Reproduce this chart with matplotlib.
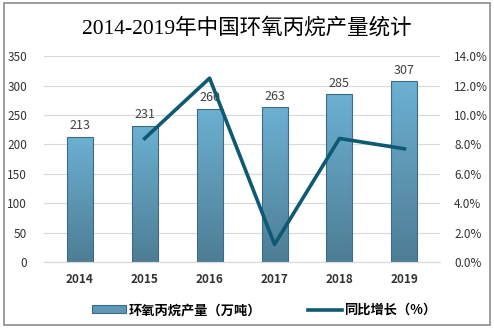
import matplotlib.pyplot as plt
import numpy as np
from matplotlib.colors import LinearSegmentedColormap
from matplotlib.lines import Line2D
from matplotlib.patches import Rectangle

plt.rcParams["font.family"] = ["Noto Sans CJK SC", "DejaVu Sans"]

years = ["2014", "2015", "2016", "2017", "2018", "2019"]
output = [213, 231, 260, 263, 285, 307]
growth_years = ["2015", "2016", "2017", "2018", "2019"]
growth = [8.4, 12.5, 1.2, 8.4, 7.7]

TITLE = "2014-2019年中国环氧丙烷产量统计"
BAR_LABEL = "环氧丙烷产量（万吨）"
LINE_LABEL = "同比增长（%）"

LINE_COLOR = "#0f5a73"
TEXT_COLOR = "#404040"

fig = plt.figure(figsize=(4.94, 3.28), dpi=100)
ax = fig.add_axes([0.089, 0.201, 0.802, 0.628])
ax2 = ax.twinx()

x = np.arange(len(years))
bars = ax.bar(x, output, width=0.4, color="none", edgecolor="#3d6b80", linewidth=0.8, zorder=3)

# vertical gradient inside each bar
grad = np.linspace(0, 1, 256).reshape(-1, 1)
cmap = LinearSegmentedColormap.from_list("bar", ["#4e7d95", "#6cb0d2"])
for b in bars:
    x0, y0 = b.get_x(), b.get_y()
    im = ax.imshow(grad, extent=[x0, x0 + b.get_width(), y0, y0 + b.get_height()],
                   origin="lower", cmap=cmap, aspect="auto", zorder=2)
    im.set_clip_path(b)

for xi, v in zip(x, output):
    ax.text(xi, v + 8, str(v), ha="center", va="bottom", fontsize=9, color=TEXT_COLOR)

gx = [years.index(y) for y in growth_years]
ax2.plot(gx, growth, color=LINE_COLOR, linewidth=2.6, zorder=4)

ax.set_xlim(-0.55, len(years) - 0.45)
ax.set_ylim(0, 350)
ax.set_yticks(range(0, 351, 50))
ax2.set_ylim(0, 14)
ax2.set_yticks(np.arange(0, 14.1, 2))
ax2.set_yticklabels([f"{t:.1f}%" for t in np.arange(0, 14.1, 2)])

ax.set_xticks(x)
ax.set_xticklabels(years, fontweight="bold", fontsize=9, color=TEXT_COLOR)
ax.grid(axis="y", color="#d9d9d9", linewidth=0.8, zorder=0)
ax.set_axisbelow(True)

for a in (ax, ax2):
    for s in ("top", "left", "right"):
        a.spines[s].set_visible(False)
    a.spines["bottom"].set_color("#d9d9d9")
    a.tick_params(length=0, labelsize=8.5, labelcolor="#333333")
ax.tick_params(axis="y", pad=12)
ax2.tick_params(axis="y", pad=10)
ax.tick_params(axis="x", pad=8)

fig.text(0.5, 0.915, TITLE, ha="center", va="center", fontsize=15.5,
         family=["Liberation Serif", "Noto Sans CJK SC"], color="black")

handles = [
    Rectangle((0, 0), 1, 1, facecolor="#5d98b6", edgecolor="#3d6b80", linewidth=0.8),
    Line2D([0], [0], color=LINE_COLOR, linewidth=2.6),
]
fig.legend(handles, [BAR_LABEL, LINE_LABEL], loc="center", bbox_to_anchor=(0.535, 0.055),
           ncol=2, frameon=False, handlelength=2.6, handleheight=0.6,
           columnspacing=3.5, handletextpad=0.2, prop={"weight": "bold", "size": 9.5})

fig.add_artist(Rectangle((0.008, 0.008), 0.984, 0.984, transform=fig.transFigure,
                         fill=False, edgecolor="#8c8c8c", linewidth=1.2))

fig.savefig("out.png", dpi=100)
